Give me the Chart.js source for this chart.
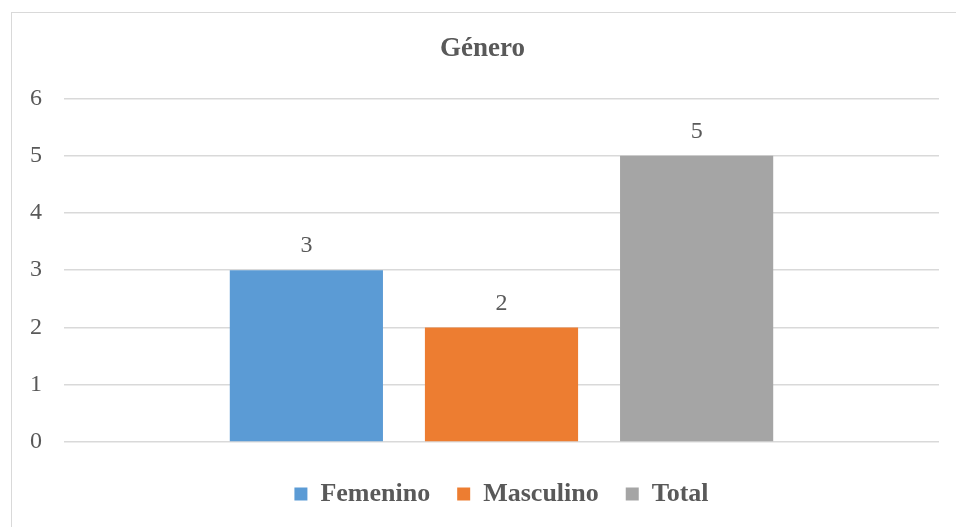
<!DOCTYPE html>
<html>
<head>
<meta charset="utf-8">
<script src="https://cdn.jsdelivr.net/npm/chart.js@4/dist/chart.umd.min.js"></script>
<style>
  html, body { margin: 0; padding: 0; background: #fff; overflow: hidden; }
  #wrap { position: relative; width: 956px; height: 527px; }
  #frame { position: absolute; left: 11px; top: 12px; width: 1000px; height: 600px; border: 1px solid #d9d9d9; }
  canvas { position: absolute; left: 0; top: 0; }
</style>
</head>
<body>
<div id="wrap">
  <div id="frame"></div>
  <canvas id="chart" width="956" height="527"></canvas>
</div>
<script>
// data
const categories = ["Género"];
const seriesNames = ["Femenino", "Masculino", "Total"];
const seriesValues = [3, 2, 5];
const seriesColors = ["#5b9bd5", "#ed7d31", "#a5a5a5"];
const yMin = 0, yMax = 6, yStep = 1;

const textGrey = "#595959";
const serif = "'Liberation Serif', 'Times New Roman', serif";

// value labels above each bar
const valueLabels = {
    id: "valueLabels",
    afterDatasetsDraw(chart) {
        const ctx = chart.ctx;
        ctx.save();
        ctx.font = "24px " + serif;
        ctx.fillStyle = textGrey;
        ctx.textAlign = "center";
        ctx.textBaseline = "middle";
        chart.data.datasets.forEach((ds, i) => {
            const meta = chart.getDatasetMeta(i);
            meta.data.forEach((bar, j) => {
                ctx.fillText(String(ds.data[j]), bar.x, bar.y - 24);
            });
        });
        ctx.restore();
    },
};

new Chart(document.getElementById("chart"), {
    type: "bar",
    data: {
        labels: categories,
        datasets: seriesNames.map((name, i) => ({
            label: name,
            data: [seriesValues[i]],
            backgroundColor: seriesColors[i],
            borderWidth: 0,
            categoryPercentage: 0.669,
            barPercentage: 0.785,
        })),
    },
    options: {
        responsive: false,
        animation: false,
        layout: { padding: { left: 26, right: 17, top: 0, bottom: 10 } },
        scales: {
            x: {
                ticks: { display: false },
                grid: { display: false },
                border: { display: false },
                afterFit(s) { s.height = 12; },
            },
            y: {
                min: yMin,
                max: yMax,
                ticks: { stepSize: yStep, color: textGrey, font: { family: serif, size: 24 }, padding: 22 },
                grid: { color: "#d9d9d9", lineWidth: 1.5, drawTicks: false },
                border: { display: false },
                afterFit(s) { s.width = 38; },
            },
        },
        plugins: {
            title: {
                display: true,
                text: "Género",
                color: textGrey,
                font: { family: serif, size: 27, weight: "bold" },
                padding: { top: 33, bottom: 33 },
            },
            legend: {
                position: "bottom",
                fullSize: false,
                labels: {
                    color: textGrey,
                    font: { family: serif, size: 26, weight: "bold" },
                    boxWidth: 13,
                    boxHeight: 13,
                    padding: 27,
                },
            },
            tooltip: { enabled: false },
        },
    },
    plugins: [valueLabels],
});
</script>
</body>
</html>
